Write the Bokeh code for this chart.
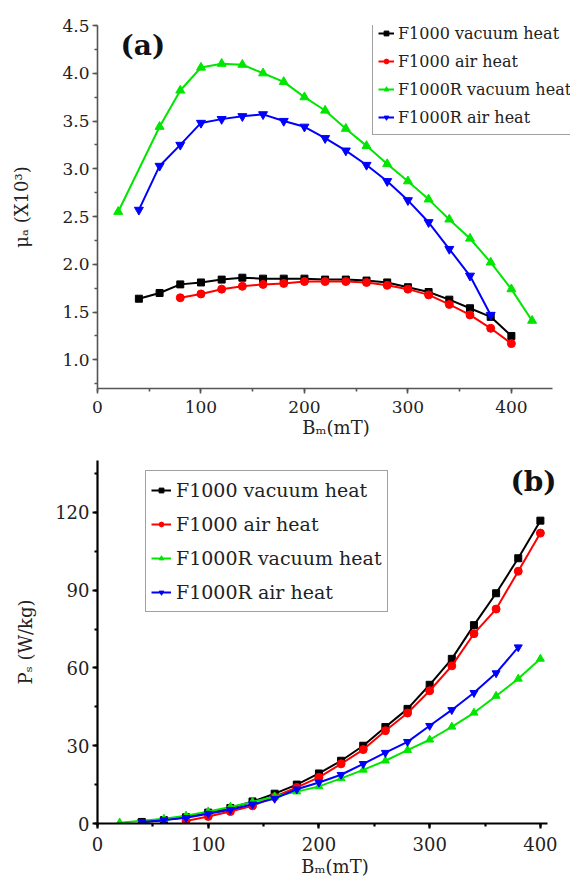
from bokeh.plotting import figure
from bokeh.layouts import column
from bokeh.models import (Legend, LegendItem, Label, SingleIntervalTicker,
                          NumeralTickFormatter, Range1d)
from bokeh.embed import file_html
from bokeh.resources import INLINE

FONT = "DejaVu Serif"

series_names = ["F1000 vacuum heat", "F1000 air heat", "F1000R vacuum heat", "F1000R air heat"]
colors = ["#000000", "#ff0000", "#00e600", "#0000ff"]
markers = ["square", "circle", "triangle", "inverted_triangle"]

# ---- panel (a): permeability mu_a (x10^3) vs Bm (mT)
a_x_black = [40, 60, 80, 100, 120, 140, 160, 180, 200, 220, 240, 260, 280, 300, 320, 340, 360, 380, 400]
a_black = [1.64, 1.70, 1.79, 1.81, 1.84, 1.86, 1.85, 1.85, 1.85, 1.84, 1.84, 1.83, 1.81, 1.76, 1.71, 1.63, 1.54, 1.45, 1.25]
a_x_red = [80, 100, 120, 140, 160, 180, 200, 220, 240, 260, 280, 300, 320, 340, 360, 380, 400]
a_red = [1.65, 1.69, 1.74, 1.77, 1.79, 1.80, 1.82, 1.82, 1.82, 1.81, 1.78, 1.74, 1.68, 1.58, 1.47, 1.33, 1.17]
a_x_green = [20, 60, 80, 100, 120, 140, 160, 180, 200, 220, 240, 260, 280, 300, 320, 340, 360, 380, 400, 420]
a_green = [2.55, 3.44, 3.82, 4.06, 4.10, 4.09, 4.00, 3.91, 3.75, 3.61, 3.42, 3.24, 3.05, 2.87, 2.68, 2.47, 2.27, 2.02, 1.74, 1.41]
a_x_blue = [40, 60, 80, 100, 120, 140, 160, 180, 200, 220, 240, 260, 280, 300, 320, 340, 360, 380]
a_blue = [2.57, 3.03, 3.25, 3.48, 3.52, 3.55, 3.57, 3.50, 3.44, 3.32, 3.19, 3.04, 2.87, 2.67, 2.44, 2.16, 1.88, 1.47]

# ---- panel (b): core loss Ps (W/kg) vs Bm (mT)
b_x_black = [40, 60, 80, 100, 120, 140, 160, 180, 200, 220, 240, 260, 280, 300, 320, 340, 360, 380, 400]
b_black = [0.6, 1.3, 2.4, 4.2, 6.0, 8.5, 11.5, 15.0, 19.3, 24.2, 30.0, 37.2, 44.2, 53.5, 63.5, 76.5, 88.8, 102.3, 116.8]
b_x_red = [80, 100, 120, 140, 160, 180, 200, 220, 240, 260, 280, 300, 320, 340, 360, 380, 400]
b_red = [1.0, 2.7, 4.6, 6.8, 10.3, 13.9, 17.8, 23.0, 28.5, 35.8, 42.6, 51.2, 60.8, 73.2, 82.7, 97.3, 112.0]
b_x_green = [20, 60, 80, 100, 120, 140, 160, 180, 200, 220, 240, 260, 280, 300, 320, 340, 360, 380, 400]
b_green = [0.3, 1.8, 3.0, 4.6, 6.4, 8.3, 10.4, 12.3, 14.3, 17.4, 20.7, 24.2, 28.3, 32.3, 37.3, 42.7, 49.2, 55.8, 63.5]
b_x_blue = [40, 60, 80, 100, 120, 140, 160, 180, 200, 220, 240, 260, 280, 300, 320, 340, 360, 380]
b_blue = [0.6, 1.3, 2.2, 3.8, 5.3, 7.4, 9.6, 13.2, 15.8, 18.8, 23.0, 27.3, 31.5, 37.7, 43.8, 50.4, 58.0, 68.0]

x_ticks_interval = 100


def style(p, axis_color, line_w, tick_size, label_size):
    p.grid.visible = False
    p.outline_line_color = None
    p.background_fill_color = "white"
    p.border_fill_color = "white"
    for ax in (p.xaxis[0], p.yaxis[0]):
        ax.axis_line_color = axis_color
        ax.axis_line_width = line_w
        ax.major_tick_line_color = axis_color
        ax.minor_tick_line_color = axis_color
        ax.major_tick_line_width = line_w
        ax.minor_tick_line_width = line_w
        ax.major_tick_in = 0
        ax.major_tick_out = 5
        ax.minor_tick_in = 0
        ax.minor_tick_out = 3
        ax.major_label_text_font = FONT
        ax.major_label_text_font_size = f"{tick_size}px"
        ax.major_label_text_color = "#222222"
        ax.axis_label_text_font = FONT
        ax.axis_label_text_font_size = f"{label_size}px"
        ax.axis_label_text_font_style = "normal"
        ax.axis_label_text_color = "#222222"
        ax.major_label_standoff = 3
        ax.axis_label_standoff = 2


def add_series(p, xs_list, ys_list, sizes, lw):
    items = []
    for name, xs, ys, c, m, s in zip(series_names, xs_list, ys_list, colors, markers, sizes):
        lr = p.line(xs, ys, line_color=c, line_width=lw)
        sr = p.scatter(xs, ys, marker=m, size=s, fill_color=c, line_color=c)
        items.append(LegendItem(label=name, renderers=[lr, sr]))
    return items


# ---------------- top figure
pa = figure(frame_width=477, frame_height=363, min_border_left=95, min_border_right=0,
            min_border_top=25, min_border_bottom=57,
            x_range=Range1d(0, 461), y_range=Range1d(0.7, 4.5),
            output_backend="svg", toolbar_location=None)
style(pa, "#555555", 1.6, 17, 18)
pa.xaxis.ticker = SingleIntervalTicker(interval=x_ticks_interval, num_minor_ticks=2)
pa.yaxis.ticker = SingleIntervalTicker(interval=0.5, num_minor_ticks=2)
pa.yaxis.formatter = NumeralTickFormatter(format="0.0")
pa.xaxis.bounds = (0, 440)
pa.xaxis.major_label_standoff = 7
pa.xaxis.axis_label_standoff = 1
pa.yaxis.axis_label_standoff = 27
pa.xaxis.axis_label = "Bₘ(mT)"
pa.yaxis.axis_label = "μₐ (X10³)"
items_a = add_series(pa, [a_x_black, a_x_red, a_x_green, a_x_blue],
                     [a_black, a_red, a_green, a_blue], [7, 8, 9, 9], 2)
leg_a = Legend(items=items_a, location=(281, 253), border_line_color="#444444",
               border_line_width=1.2, label_text_font=FONT, label_text_font_size="16px",
               label_text_color="#222222", glyph_width=16, glyph_height=12,
               label_standoff=4, label_height=24, spacing=4, padding=5,
               background_fill_alpha=1.0)
pa.add_layout(leg_a)
pa.add_layout(Label(x=23, y=343, x_units="screen", y_units="screen", text="(a)",
                    text_font=FONT, text_font_size="28px", text_font_style="bold",
                    text_baseline="middle", text_align="left", text_color="#111111"))

# ---------------- bottom figure
pb = figure(frame_width=475, frame_height=363, min_border_left=97, min_border_right=0,
            min_border_top=15, min_border_bottom=57,
            x_range=Range1d(0, 429), y_range=Range1d(0, 140),
            output_backend="svg", toolbar_location=None)
style(pb, "#000000", 2.2, 18, 18)
pb.xaxis.ticker = SingleIntervalTicker(interval=x_ticks_interval, num_minor_ticks=2)
pb.yaxis.ticker = SingleIntervalTicker(interval=30, num_minor_ticks=2)
pb.xaxis.bounds = (0, 406)
pb.xaxis.major_label_standoff = 8
pb.xaxis.axis_label_standoff = 2
pb.yaxis.axis_label_standoff = 16
pb.xaxis.axis_label = "Bₘ(mT)"
pb.yaxis.axis_label = "Pₛ (W/kg)"
items_b = add_series(pb, [b_x_black, b_x_red, b_x_green, b_x_blue],
                     [b_black, b_red, b_green, b_blue], [7, 8, 8, 8], 2)
leg_b = Legend(items=items_b, location=(48, 211), border_line_color="#444444",
               border_line_width=1.2, label_text_font=FONT, label_text_font_size="19px",
               label_text_color="#222222", glyph_width=20, glyph_height=12,
               label_standoff=5, label_height=28, spacing=6, padding=5,
               background_fill_alpha=1.0)
pb.add_layout(leg_b)
pb.add_layout(Label(x=413, y=342, x_units="screen", y_units="screen", text="(b)",
                    text_font=FONT, text_font_size="28px", text_font_style="bold",
                    text_baseline="middle", text_align="left", text_color="#111111"))

layout = column(pa, pb, spacing=0)
open("out.html", "w").write(file_html(layout, INLINE))
